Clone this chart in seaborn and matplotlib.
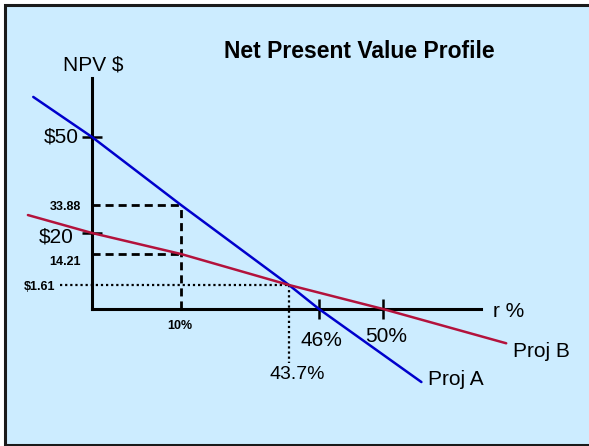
import numpy as np
import pandas as pd
import matplotlib
matplotlib.use("Agg")
import matplotlib.pyplot as plt
from matplotlib.patches import Rectangle
import seaborn as sns

# ---- data -------------------------------------------------------------
# discount rates (%) and NPV ($) for the two projects
rates_a = [-6.6, 0, 10, 43.7, 46, 52.4]
npv_a = [59.5, 50, 33.88, 1.61, 0, -4.9]
rates_b = [-7.2, 0, 10, 43.7, 50, 57.7]
npv_b = [28.9, 20, 14.21, 1.61, 0, -2.3]

cost_of_capital = 10          # %
npv_a_at_coc = 33.88
npv_b_at_coc = 14.21
crossover_rate = 43.7         # %
crossover_npv = 1.61
irr_a = 46                    # %
irr_b = 50                    # %
npv_a_at_zero = 50
npv_b_at_zero = 20

y_tick_values = [npv_b_at_zero, npv_a_at_zero]
y_tick_labels = ["$20", "$50"]
x_tick_values = [irr_a, irr_b]
x_tick_labels = ["46%", "50%"]

# ---- schematic (not-to-scale) axes -----------------------------------
W, H = 589, 446
rate_marks = [0, cost_of_capital, crossover_rate, irr_a, irr_b]
rate_px = [92, 181, 289, 319, 383]
npv_marks = [0, crossover_npv, npv_b_at_coc, npv_b_at_zero, npv_a_at_coc, npv_a_at_zero]
npv_px = [-309, -285, -254, -233, -205, -137]


def piecewise(xs, ys):
    xs = np.asarray(xs, float)
    ys = np.asarray(ys, float)

    def f(v):
        v = np.asarray(v, float)
        out = np.interp(v, xs, ys)
        lo_slope = (ys[1] - ys[0]) / (xs[1] - xs[0])
        hi_slope = (ys[-1] - ys[-2]) / (xs[-1] - xs[-2])
        out = np.where(v < xs[0], ys[0] + (v - xs[0]) * lo_slope, out)
        out = np.where(v > xs[-1], ys[-1] + (v - xs[-1]) * hi_slope, out)
        return out
    return f


x_fwd, x_inv = piecewise(rate_marks, rate_px), piecewise(rate_px, rate_marks)
y_fwd, y_inv = piecewise(npv_marks, npv_px), piecewise(npv_px, npv_marks)

sns.set_theme(style="white")
plt.rcParams["font.family"] = ["Liberation Sans", "DejaVu Sans"]

fig = plt.figure(figsize=(W / 100, H / 100), dpi=100)
fig.patch.set_facecolor("white")
fig.add_artist(Rectangle((4.5 / W, 1.5 / H), 1.2, (H - 6) / H,
                         transform=fig.transFigure, facecolor="#CCECFF",
                         edgecolor="#1a1a1a", linewidth=2.2, zorder=0))

ax = fig.add_axes([0, 0, 1, 1])
ax.set_facecolor("none")
ax.set_xscale("function", functions=(x_fwd, x_inv))
ax.set_yscale("function", functions=(y_fwd, y_inv))

df = pd.DataFrame({
    "rate": rates_a + rates_b,
    "npv": npv_a + npv_b,
    "project": ["Proj A"] * len(rates_a) + ["Proj B"] * len(rates_b),
})
sns.lineplot(data=df, x="rate", y="npv", hue="project", sort=False,
             palette={"Proj A": "#0000CC", "Proj B": "#B3123C"},
             linewidth=1.8, legend=False, ax=ax, zorder=5)

ax.set_xlim(float(x_inv(0)), float(x_inv(W)))
ax.set_ylim(float(y_inv(-H)), float(y_inv(0)))
ax.set_xlabel("")
ax.set_ylabel("")

# axes drawn as crossing lines at the origin
axis_top_npv = 64
axis_end_rate = 56.1
for s in ("top", "right"):
    ax.spines[s].set_visible(False)
for s in ("left", "bottom"):
    ax.spines[s].set_visible(True)
    ax.spines[s].set_color("black")
    ax.spines[s].set_linewidth(2.2)
    ax.spines[s].set_position(("data", 0))
    ax.spines[s].set_zorder(3)
ax.spines["left"].set_bounds(0, axis_top_npv)
ax.spines["bottom"].set_bounds(0, axis_end_rate)

ax.set_xticks(x_tick_values)
ax.set_yticks(y_tick_values)
ax.set_xticklabels([])
ax.set_yticklabels([])
ax.tick_params(axis="both", which="both", direction="inout", length=14,
               width=1.8, color="black", left=True, bottom=True)
ax.minorticks_off()

# guide lines at the 10% cost of capital
dash = (0, (2.9, 1.8))
ax.plot([0, cost_of_capital], [npv_a_at_coc, npv_a_at_coc], color="black",
        lw=2, ls=dash, zorder=2)
ax.plot([0, cost_of_capital], [npv_b_at_coc, npv_b_at_coc], color="black",
        lw=2, ls=dash, zorder=2)
ax.plot([cost_of_capital, cost_of_capital], [0, npv_a_at_coc], color="black",
        lw=2, ls=dash, zorder=2)

# dotted leaders to the crossover point
leader_rate_start = -3.6
leader_npv_end = -3.6
dot = (0, (1, 1.3))
ax.plot([leader_rate_start, crossover_rate], [crossover_npv, crossover_npv],
        color="black", lw=1.6, ls=dot, zorder=2)
ax.plot([crossover_rate, crossover_rate], [crossover_npv, leader_npv_end],
        color="black", lw=1.6, ls=dot, zorder=2)


def label(text, xy, off, size=15, weight="normal", ha="center", va="center"):
    ax.annotate(text, xy=xy, xytext=off, textcoords="offset points",
                ha=ha, va=va, fontsize=size, fontweight=weight,
                color="black", zorder=6)


label(y_tick_labels[1], (0, npv_a_at_zero), (-9.4, 0), ha="right")
label(y_tick_labels[0], (0, npv_b_at_zero), (-13, -3), ha="right")
label(x_tick_labels[0], (irr_a, 0), (1.5, -23))
label(x_tick_labels[1], (irr_b, 0), (2.2, -20))
label("33.88", (0, npv_a_at_coc), (-8, -1.5), size=9, weight="bold", ha="right")
label("14.21", (0, npv_b_at_coc), (-8, -6), size=9, weight="bold", ha="right")
label("$1.61", (leader_rate_start, crossover_npv), (-3.6, -1.5), size=9,
      weight="bold", ha="right")
label("10%", (cost_of_capital, 0), (-0.7, -12), size=9, weight="bold")
label("43.7%", (crossover_rate, 0), (6.1, -47.5), size=14)
label("Proj A", (rates_a[-1], npv_a[-1]), (5, 1.5), ha="left")
label("Proj B", (rates_b[-1], npv_b[-1]), (5, -6), ha="left")
label("r %", (axis_end_rate, 0), (8.6, -2), ha="left")
label("NPV $", (0, axis_top_npv), (0.7, 9.4))

fig.text(359 / W, 1 - 52 / H, "Net Present Value Profile", ha="center",
         va="center", fontsize=16.5, fontweight="bold", color="black")

fig.savefig("out.png", dpi=100, facecolor=fig.get_facecolor())
